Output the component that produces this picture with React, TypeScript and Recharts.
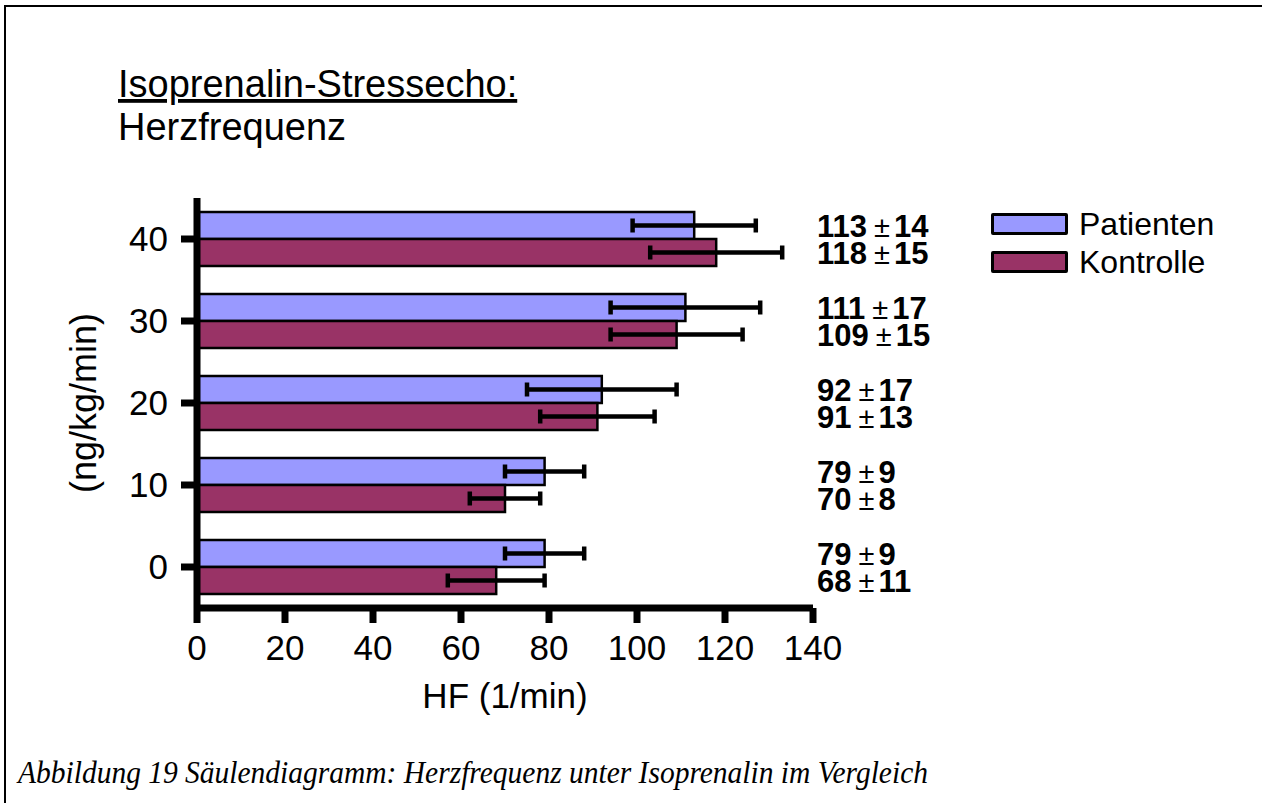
import React from 'react'
import { BarChart, Bar, XAxis, YAxis, ErrorBar, LabelList, Label } from 'recharts'

const doses = ['40', '30', '20', '10', '0']
const patientenMean = [113, 111, 92, 79, 79]
const patientenSd = [14, 17, 17, 9, 9]
const kontrolleMean = [118, 109, 91, 70, 68]
const kontrolleSd = [15, 15, 13, 8, 11]
const xTicks = [0, 20, 40, 60, 80, 100, 120, 140]
const seriesNames = ['Patienten', 'Kontrolle']

const data = doses.map((d, i) => ({
  dose: d,
  pat: patientenMean[i],
  patSd: patientenSd[i],
  con: kontrolleMean[i],
  conSd: kontrolleSd[i],
}))

const W = 1262
const H = 803
const M = { top: 198, right: 449, bottom: 135, left: 97 }
const LABEL_X = W - M.right + 4
const FONT = '"Liberation Sans", Arial, sans-serif'

const PAT = '#9999FF'
const CON = '#993366'

const makeLabel = (sds: number[]) => (props: any) => {
  const { y, height, value, index } = props
  const cy = Number(y) + Number(height) / 2 + 11
  return (
    <text x={LABEL_X} y={cy} fontFamily={FONT} fontSize={31} fill="#000">
      <tspan fontWeight="bold">{value}</tspan>
      <tspan dx={7} fontSize={29}>±</tspan>
      <tspan dx={4} fontWeight="bold">{sds[index]}</tspan>
    </text>
  )
}

// legend drawn as plain html next to the chart
const LegendBox = () => (
  <div style={{ position: 'absolute', left: 991, top: 211, fontFamily: FONT }}>
    {[PAT, CON].map((c, i) => (
      <div key={i} style={{ display: 'flex', alignItems: 'center', height: 26, marginBottom: 12 }}>
        <div style={{ width: 71, height: 16, background: c, border: '3px solid #000', borderRadius: 2 }} />
        <span style={{ marginLeft: 11, fontSize: 32, lineHeight: '26px', color: '#000' }}>{seriesNames[i]}</span>
      </div>
    ))}
  </div>
)

export default function App() {
  return (
    <div style={{ position: 'absolute', left: 0, top: 0, width: W, height: H, background: '#fff', overflow: 'hidden' }}>
      <div style={{ position: 'absolute', left: 4, top: 5, width: W, height: H, borderLeft: '2.5px solid #000', borderTop: '2.5px solid #000' }} />
      <svg width={W} height={H} style={{ position: 'absolute', left: 0, top: 0 }}>
        <text x={118} y={97} fontFamily={FONT} fontSize={38} fill="#000" style={{ textDecoration: 'underline' }}>
          Isoprenalin-Stressecho:
        </text>
        <text x={118} y={140} fontFamily={FONT} fontSize={38} fill="#000">Herzfrequenz</text>
        <text x={18} y={783} fontFamily={'"Liberation Serif", "Times New Roman", serif'} fontStyle="italic" fontSize={31}
          fill="#000" textLength={910} lengthAdjust="spacingAndGlyphs">
          Abbildung 19 Säulendiagramm: Herzfrequenz unter Isoprenalin im Vergleich
        </text>
      </svg>
      <div style={{ position: 'absolute', left: 0, top: 0 }}>
        <BarChart width={W} height={H} data={data} layout="vertical" margin={M}
          barCategoryGap={14} barGap={0} style={{ fontFamily: FONT }}>
          <XAxis type="number" domain={[0, 140]} ticks={xTicks} height={60}
            axisLine={{ stroke: '#000', strokeWidth: 7 }} tickLine={{ stroke: '#000', strokeWidth: 7 }}
            tickSize={15} tickMargin={12} tick={{ fill: '#000', fontSize: 35, fontFamily: FONT }}>
            <Label value="HF (1/min)" position="bottom" offset={15} fill="#000" fontSize={35} fontFamily={FONT} />
          </XAxis>
          <YAxis type="category" dataKey="dose" width={100}
            axisLine={{ stroke: '#000', strokeWidth: 7 }} tickLine={{ stroke: '#000', strokeWidth: 7 }}
            tickSize={16} tickMargin={13} tick={{ fill: '#000', fontSize: 35, fontFamily: FONT }}>
            <Label
              content={(p: any) => {
                const vb = p.viewBox || {}
                const cx = vb.x - 14
                const cy = vb.y + vb.height / 2
                return (
                  <text x={cx} y={cy} transform={`rotate(-90 ${cx} ${cy})`} textAnchor="middle"
                    dominantBaseline="central" fontFamily={FONT} fontSize={36} fill="#000">
                    (ng/kg/min)
                  </text>
                )
              }}
            />
          </YAxis>
          <Bar dataKey="pat" name={seriesNames[0]} fill={PAT} stroke="#000" strokeWidth={2.5} isAnimationActive={false}>
            <ErrorBar dataKey="patSd" direction="x" width={7} stroke="#000" strokeWidth={4.5} />
            <LabelList dataKey="pat" content={makeLabel(patientenSd)} />
          </Bar>
          <Bar dataKey="con" name={seriesNames[1]} fill={CON} stroke="#000" strokeWidth={2.5} isAnimationActive={false}>
            <ErrorBar dataKey="conSd" direction="x" width={7} stroke="#000" strokeWidth={4.5} />
            <LabelList dataKey="con" content={makeLabel(kontrolleSd)} />
          </Bar>
        </BarChart>
      </div>
      <LegendBox />
    </div>
  )
}
